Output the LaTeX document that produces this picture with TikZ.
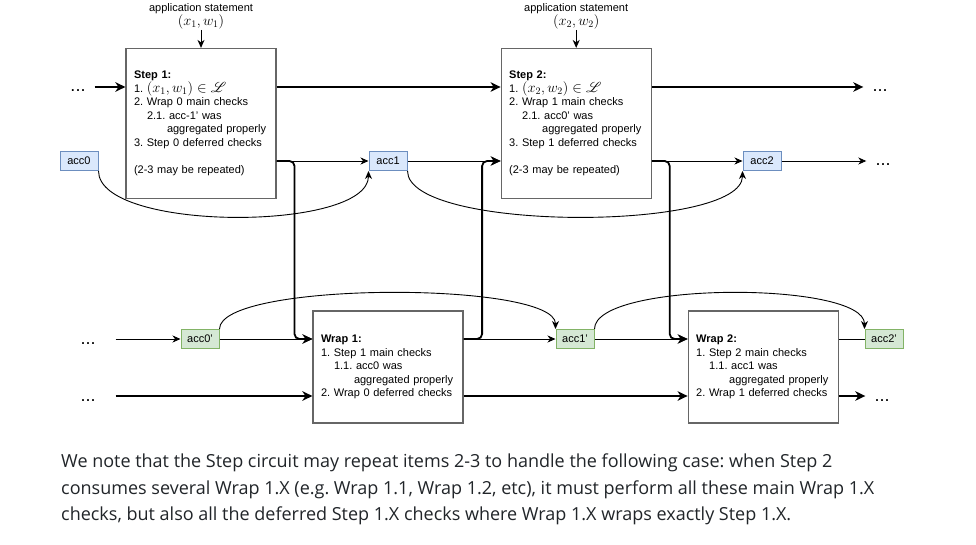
\documentclass[tikz,border=0pt]{standalone}
\usepackage{fontspec}
\usepackage{mathrsfs}
\setsansfont{Liberation Sans}
\newfontfamily\notefont{Open Sans}
\usetikzlibrary{arrows.meta, positioning, calc}

\definecolor{accblue}{HTML}{DAE8FC}
\definecolor{accblueline}{HTML}{6C8EBF}
\definecolor{accgreen}{HTML}{D5E8D4}
\definecolor{accgreenline}{HTML}{82B366}
\definecolor{notetext}{HTML}{212529}

\newcommand{\stmt}[1]{{\fontsize{14}{13.5}\selectfont$#1$}}
\frenchspacing

\begin{document}
\begin{tikzpicture}[
            x = 1pt, y = -1pt,
            > = {Stealth[length=8pt, width=7pt, inset=2.5pt]},
            font = \sffamily\fontsize{11}{13.5}\selectfont,
            node distance = 224pt
        ]

        \tikzstyle{stepbox}=[
            draw = black!60,
            line width = 1.2pt,
            fill = white,
            minimum width = 150pt,
            minimum height = 150pt,
            text width = 134pt,
            inner sep = 8pt,
            align = left
        ]
        \tikzstyle{wrapbox}=[stepbox, minimum height = 112pt]
        \tikzstyle{acc}=[line width = 1pt, minimum width = 38pt, minimum height = 19pt, inner sep = 0pt]
        \tikzstyle{accA}=[acc, draw = accblueline, fill = accblue]
        \tikzstyle{accB}=[acc, draw = accgreenline, fill = accgreen]
        \tikzstyle{more}=[font = \sffamily\fontsize{18}{18}\selectfont, text height = 10pt, text depth = 0pt, inner xsep = 9pt, inner ysep = 0pt]
        \tikzstyle{flow}=[-{Stealth[length=10pt, width=9.5pt, inset=3pt]}, line width = 1.8pt]
        \tikzstyle{data}=[->, line width = 0.9pt]

        \path[use as bounding box, fill = white] (0,0) rectangle (976,545);

        \node[stepbox] (step1) at (201, 123.5) {\textbf{Step 1:}\\
            1. \stmt{(x_1, w_1) \in \mathscr{L}}\\
            2. Wrap 0 main checks\\
            \hspace*{13pt}2.1. acc-1' was\\
            \hspace*{33pt}aggregated properly\\
            3. Step 0 deferred checks\\[13.5pt]
            (2-3 may be repeated)};
        \node[stepbox] (step2) [right=of step1] {\textbf{Step 2:}\\
            1. \stmt{(x_2, w_2) \in \mathscr{L}}\\
            2. Wrap 1 main checks\\
            \hspace*{13pt}2.1. acc0' was\\
            \hspace*{33pt}aggregated properly\\
            3. Step 1 deferred checks\\[13.5pt]
            (2-3 may be repeated)};
        \node[wrapbox] (wrap1) at (388, 367) {\textbf{Wrap 1:}\\
            1. Step 1 main checks\\
            \hspace*{13pt}1.1. acc0 was\\
            \hspace*{33pt}aggregated properly\\
            2. Wrap 0 deferred checks};
        \node[wrapbox] (wrap2) [right=of wrap1] {\textbf{Wrap 2:}\\
            1. Step 2 main checks\\
            \hspace*{13pt}1.1. acc1 was\\
            \hspace*{33pt}aggregated properly\\
            2. Wrap 1 deferred checks};

        \node (app1) [above=18pt of step1, align=center, inner sep=1pt] {application statement\\\stmt{(x_1, w_1)}};
        \node (app2) [above=18pt of step2, align=center, inner sep=1pt] {application statement\\\stmt{(x_2, w_2)}};

        \node[accA] (acc0) at (79, 161) {acc0};
        \node[accA] (acc1) at (388, 161) {acc1};
        \node[accA] (acc2) at (762, 161) {acc2};
        \node[accB] (acc0p) at (200, 339) {acc0'};
        \node[accB] (acc1p) at (575, 339) {acc1'};
        \node[accB] (acc2p) at (884, 339) {acc2'};

        \node[more] (moreA) at (78, 87) {...};
        \node[more] (moreB) at (880, 87) {...};
        \node[more] (moreC) at (883, 161) {...};
        \node[more] (moreD) at (88, 339) {...};
        \node[more] (moreE) at (88, 396) {...};
        \node[more] (moreF) at (882, 396) {...};

        % accumulator curves
        \draw[data] (acc0.south east) .. controls +(0,61) and +(0,61) .. (acc1.south west);
        \draw[data] (acc1.south east) .. controls +(0,61) and +(0,61) .. (acc2.south west);
        \draw[data] (acc0p.north east) .. controls +(0,-48) and +(0,-48) .. (acc1p.north west);
        \draw[data] (acc1p.north east) .. controls +(0,-48) and +(0,-48) .. (acc2p.north west);

        \draw[->, line width = 0.9pt] (app1) -- (step1);
        \draw[->, line width = 0.9pt] (app2) -- (step2);

        % step row
        \draw[flow] (moreA) -- (step1.west |- moreA);
        \draw[flow] (step1.east |- moreA) -- (step2.west |- moreA);
        \draw[flow] (step2.east |- moreA) -- (moreB);
        \draw[data] (step1.east |- acc1) -- (acc1);
        \draw[data] (acc1) -- (step2.west |- acc1);
        \draw[data] (step2.east |- acc2) -- (acc2);
        \draw[data] (acc2) -- (moreC);

        % wrap row
        \draw[data, shorten <= 11pt] (moreD) -- (acc0p);
        \draw[data] (acc0p) -- (wrap1.west |- acc0p);
        \draw[data] (wrap1.east |- acc1p) -- (acc1p);
        \draw[data] (acc1p) -- (wrap2.west |- acc1p);
        \draw[line width = 0.9pt] (wrap2.east |- acc2p) -- (acc2p);
        \draw[flow, shorten <= 11pt] (moreE) -- (wrap1.west |- moreE);
        \draw[flow] (wrap1.east |- moreE) -- (wrap2.west |- moreE);
        \draw[flow] (wrap2.east |- moreE) -- (moreF);

        % step <-> wrap
        \draw[flow, rounded corners=5pt] (step1.east |- acc1) -| ($(step1.east)!0.5!(wrap1.west)$) |- (wrap1.west |- acc0p);
        \draw[flow, rounded corners=5pt] (wrap1.east |- acc1p) -| ($(wrap1.east)!0.5!(step2.west)$) |- (step2.west |- acc1);
        \draw[flow, rounded corners=5pt] (step2.east |- acc2) -| ($(step2.east)!0.5!(wrap2.west)$) |- (wrap2.west |- acc1p);

        \node (note) [anchor=north west, inner sep=0pt, align=left, text=notetext,
            font=\notefont\fontsize{18}{26.5}\selectfont] at (61, 454) {We note that the Step circuit may repeat items 2-3 to handle the following case: when Step 2\\
            consumes several Wrap 1.X (e.g. Wrap 1.1, Wrap 1.2, etc), it must perform all these main Wrap 1.X\\
            checks, but also all the deferred Step 1.X checks where Wrap 1.X wraps exactly Step 1.X.};

    \end{tikzpicture}
\end{document}
